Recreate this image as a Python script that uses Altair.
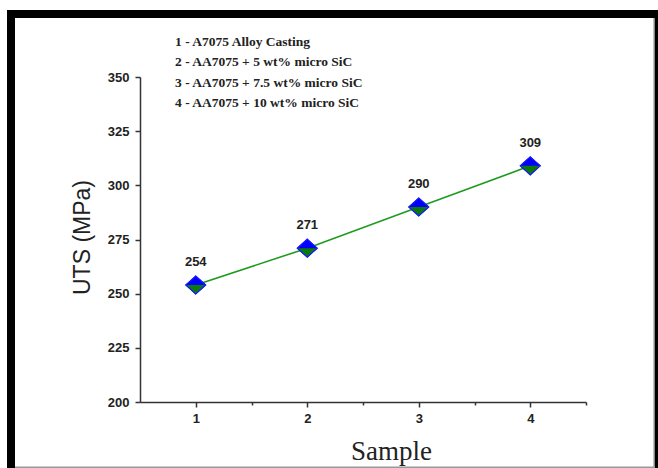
import altair as alt
import pandas as pd

samples = [1, 2, 3, 4]
uts = [254, 271, 290, 309]
legend_lines = [
    "1 - A7075 Alloy Casting",
    "2 - AA7075 + 5 wt%  micro SiC",
    "3 - AA7075 + 7.5 wt%  micro SiC",
    "4 - AA7075 + 10 wt%  micro SiC",
]
y_ticks = [200 + 12.5 * i for i in range(13)]
x_ticks = [1, 1.5, 2, 2.5, 3, 3.5, 4, 4.5]

df = pd.DataFrame({"Sample": samples, "UTS": uts})
one = pd.DataFrame({"a": [0]})

W, H = 446, 325

x_enc = alt.X(
    "Sample:Q",
    scale=alt.Scale(domain=[0.5, 4.5], nice=False, zero=False),
    axis=alt.Axis(
        title="Sample",
        values=x_ticks,
        labelExpr="datum.value % 1 === 0 ? format(datum.value, 'd') : ''",
        tickSize={"condition": {"test": "datum.value % 1 !== 0", "value": 3}, "value": 5},
        labelPadding=5,
        labelFont="Liberation Sans",
        labelFontWeight="bold",
        labelFontSize=13,
        labelColor="#222222",
        titleFont="Liberation Serif",
        titleFontWeight="normal",
        titleFontSize=27,
        titleColor="#222222",
        titleAnchor="start",
        titleAlign="center",
        titleBaseline="alphabetic",
        titleX=251,
        titleY=57,
        grid=False,
        domainColor="#333333",
        domainWidth=1.5,
        tickColor="#333333",
        tickWidth=1.5,
    ),
)
y_enc = alt.Y(
    "UTS:Q",
    scale=alt.Scale(domain=[200, 350], nice=False, zero=False),
    axis=alt.Axis(
        title="UTS (MPa)",
        values=y_ticks,
        labelExpr="datum.value % 25 === 0 ? datum.label : ''",
        tickSize={"condition": {"test": "datum.value % 25 !== 0", "value": 3}, "value": 5},
        labelPadding=6,
        labelFont="Liberation Sans",
        labelFontWeight="bold",
        labelFontSize=13,
        labelColor="#222222",
        titleFont="Liberation Sans",
        titleFontWeight="normal",
        titleFontSize=23,
        titleColor="#222222",
        titleAnchor="start",
        titleAngle=-90,
        titleAlign="center",
        titleBaseline="alphabetic",
        titleX=-51,
        titleY=160,
        grid=False,
        domainColor="#333333",
        domainWidth=1.5,
        tickColor="#333333",
        tickWidth=1.5,
    ),
)

base = alt.Chart(df)

line = base.mark_line(color="#1f9a1f", strokeWidth=1.6).encode(x=x_enc, y=y_enc)

diamond_path = "M0,-0.9L1,0L0,0.9L-1,0Z"
lower_path = "M-1,0L1,0L0,0.9Z"

pt_blue = base.mark_point(
    shape=diamond_path, filled=True, fill="#0000ff", stroke="#0000ff", strokeWidth=1, opacity=1, size=400
).encode(x="Sample:Q", y="UTS:Q")
pt_green = base.mark_point(
    shape=lower_path, filled=True, fill="#0a7a0a", strokeWidth=0, opacity=1, size=400
).encode(x="Sample:Q", y="UTS:Q")
pt_outline = base.mark_point(
    shape=diamond_path, filled=False, stroke="#1a1aff", strokeWidth=1.2, opacity=1, size=400
).encode(x="Sample:Q", y="UTS:Q")

labels = base.mark_text(
    dy=-23, font="Liberation Sans", fontWeight="bold", fontSize=13, color="#222222"
).encode(x="Sample:Q", y="UTS:Q", text="UTS:Q")

legend_text = alt.Chart(one).mark_text(
    align="left", baseline="alphabetic", font="Liberation Serif", fontWeight="bold",
    fontSize=13.5, lineHeight=20.3, color="#222222"
).encode(x=alt.value(35), y=alt.value(-31), text=alt.value(legend_lines))

frame_top = alt.Chart(one).mark_rect(color="black").encode(
    x=alt.value(-133), x2=alt.value(518), y=alt.value(-67), y2=alt.value(-59))
frame_left = alt.Chart(one).mark_rect(color="black").encode(
    x=alt.value(-133), x2=alt.value(-125), y=alt.value(-67), y2=alt.value(391))
frame_right = alt.Chart(one).mark_rect(color="black").encode(
    x=alt.value(515), x2=alt.value(518), y=alt.value(-67), y2=alt.value(391))
frame_right_gray = alt.Chart(one).mark_rect(color="#888888").encode(
    x=alt.value(513.5), x2=alt.value(515), y=alt.value(-59), y2=alt.value(391))
frame_bottom = alt.Chart(one).mark_rect(color="#999999").encode(
    x=alt.value(-125), x2=alt.value(515), y=alt.value(389.5), y2=alt.value(391))

chart = alt.layer(
    line, pt_blue, pt_green, pt_outline, labels, legend_text,
    frame_top, frame_left, frame_right, frame_right_gray, frame_bottom,
).properties(
    width=W, height=H,
    autosize=alt.AutoSizeParams(type="none"),
    padding={"left": 140, "top": 77, "right": 72, "bottom": 66},
    background="white",
).configure_view(stroke=None)

chart.save("out.html", embed_options={"renderer": "svg", "actions": False})
